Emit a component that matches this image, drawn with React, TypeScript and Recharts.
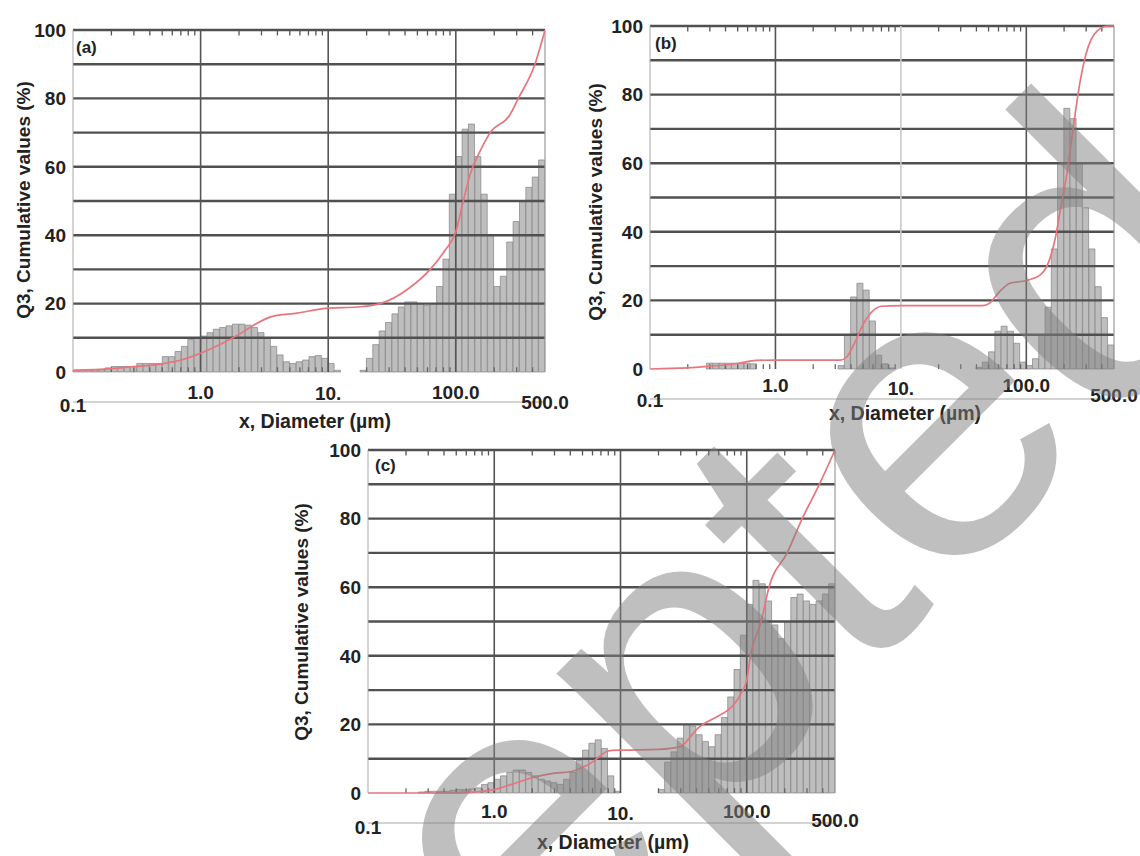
import { ComposedChart, Bar, Line, XAxis, YAxis, ReferenceLine } from 'recharts';

// x axis (log, µm)
const majorTicks = [0.1, 1, 10, 100, 500];
const majorLabels = ['0.1', '1.0', '10.', '100.0', '500.0'];
const minorTicks = [0.2, 0.3, 0.4, 0.5, 0.6, 0.7, 0.8, 0.9, 2, 3, 4, 5, 6, 7, 8, 9, 20, 30, 40, 50, 60, 70, 80, 90, 200, 300, 400];
const yTicks = [0, 20, 40, 60, 80, 100];
const gridY = [10, 20, 30, 40, 50, 60, 70, 80, 90, 100];
const gridX = [1, 10, 100];

// histogram bars, 74 equal log-width bins from 0.1 to 500 µm
const freqA = [
  0.5, 0.5, 0.5, 0.5, 0.6, 1.2, 1.6, 1.6, 1.6, 1.6,
  2.5, 2.5, 2.5, 2.5, 4.5, 4.5, 6, 7.5, 9.5, 10,
  10.5, 11.5, 12.5, 13, 13.5, 14, 14, 13.7, 13, 11.5,
  10, 7.5, 5, 3, 2.5, 3, 3.5, 4.5, 4.8, 4,
  2.5, 0.5, 0, 0, 0, 0.5, 4, 8, 12, 14.5,
  17, 19, 20.5, 20.5, 20, 19.5, 20, 25, 33, 52,
  63, 71, 72.5, 63, 52, 40, 25, 28, 38, 44,
  50, 54, 57, 62,
];
const freqB = [
  0, 0, 0, 0, 0, 0, 0, 0, 0, 1.7,
  1.7, 1.7, 1.7, 1.7, 1.7, 1.7, 1.5, 0, 0, 0,
  0, 0, 0, 0, 0, 0, 0, 0, 0, 0,
  1, 10, 21, 25, 23, 14, 4, 1.5, 0.3, 0,
  0, 0, 0, 0, 0, 0, 0, 0, 0, 0,
  0, 0, 0.5, 2, 5, 11, 12.5, 11, 7.5, 2,
  1, 3, 10, 18, 35, 60, 76, 73, 60, 47,
  35, 24, 15, 7,
];
const freqC = [
  0, 0, 0, 0, 0, 0, 0, 0, 0.3, 0.5,
  0.5, 0.5, 0.5, 0.8, 1, 1, 1.2, 1.5, 2.5, 3,
  4, 5, 6, 6.7, 6.7, 6, 5, 4, 3.5, 3,
  2.5, 4, 6, 9.5, 12.5, 14.5, 15.5, 13, 5, 0.5,
  0, 0, 0, 0, 0, 0, 1, 9, 12, 16,
  20, 19.5, 17, 15, 13.5, 17, 22, 28, 36, 46,
  55, 62, 61, 56, 49, 45, 50, 57, 58, 56,
  55, 56, 58, 61,
];

// cumulative Q3 curves
const cumDA = [0.1, 0.2, 0.3, 0.5, 0.7, 0.85, 1, 1.5, 2, 2.5, 3.6, 5.7, 10, 17, 25.6, 43, 63, 82, 100, 114, 130, 157, 186, 263, 309, 417, 500];
const cumQA = [0.5, 1, 1.6, 2.4, 3.5, 4.5, 5.5, 8.5, 11, 13.3, 16.2, 17.2, 18.7, 19, 20, 24.5, 30, 35.5, 41, 49.7, 58, 65, 70, 75, 80, 90, 100];
const cumDB = [0.1, 0.2, 0.3, 0.5, 0.7, 1, 3.3, 3.7, 4.2, 5, 6, 7, 10, 45, 51, 61, 74, 100, 130, 150, 170, 186, 211, 236, 269, 300, 366, 450, 500];
const cumQB = [0, 0.3, 0.8, 1.6, 2.5, 2.6, 2.6, 3.5, 7, 13, 17, 18.3, 18.5, 18.5, 19.2, 22.5, 25, 25.8, 27.5, 31, 38, 46, 57, 70, 84, 92, 98.5, 100, 100];
const cumDC = [0.1, 0.5, 0.7, 1, 1.5, 2, 3, 4, 5, 6, 7, 8, 10, 20, 30, 35, 40, 50, 60, 80, 90, 100, 107, 130, 150, 209, 275, 376, 500];
const cumQC = [0, 0, 0.3, 1, 3, 4.5, 5.8, 6.2, 7.5, 9, 11, 12.3, 12.5, 12.7, 13.5, 16, 18.5, 21, 22.5, 26, 29, 33, 40, 50, 60, 70, 80, 90, 100];

const FONT = 'Arial, "Liberation Sans", sans-serif';

type PanelProps = {
  left: number;
  top: number;
  plotW: number;
  plotH: number;
  freq: number[];
  cumD: number[];
  cumQ: number[];
  labelDy: number[];
  gridXColors: string[];
};

function Panel({ left, top, plotW, plotH, freq, cumD, cumQ, labelDy, gridXColors }: PanelProps) {
  const bottom = 10 + plotH;
  const bins = freq.map((v, i) => ({ bin: i, freq: v }));
  const cum = cumD.map((d, i) => ({ d, q: cumQ[i] }));

  const xTick = (p: any) => {
    const k = majorTicks.indexOf(p.payload.value);
    if (k < 0) return <g />;
    return (
      <text x={p.x} y={bottom + labelDy[k]} textAnchor="middle" dominantBaseline="central"
        fontSize={19} fontWeight={700} fill="#222" fontFamily={FONT}>
        {majorLabels[k]}
      </text>
    );
  };

  return (
    <div style={{ position: 'absolute', left: left - 70, top: top - 10 }}>
      <ComposedChart width={plotW + 100} height={plotH + 70} data={bins}
        margin={{ top: 10, right: 30, bottom: 20, left: 10 }} barCategoryGap={0} barGap={0}>
        <XAxis xAxisId="bins" dataKey="bin" type="category" hide />
        <XAxis xAxisId="log" dataKey="d" type="number" scale="log" domain={[0.1, 500]} allowDataOverflow
          ticks={majorTicks} interval={0} height={40} tickSize={0} tickLine={false}
          axisLine={{ stroke: '#a8a8a8' }} tick={xTick} />
        <YAxis type="number" domain={[0, 100]} ticks={yTicks} interval={0} width={60}
          tickSize={0} tickMargin={7} axisLine={{ stroke: '#a8a8a8' }} tickLine={false}
          tick={{ fontSize: 19, fontWeight: 700, fill: '#222', fontFamily: FONT }} />
        <Bar xAxisId="bins" dataKey="freq" fill="#bebebe" stroke="#828282" strokeWidth={0.7}
          isAnimationActive={false} />
        {gridY.map((v) => (
          <ReferenceLine key={'h' + v} xAxisId="log" y={v} stroke="#505050" strokeWidth={2.4} />
        ))}
        {gridX.map((v, i) => (
          <ReferenceLine key={'v' + v} xAxisId="log" x={v} stroke={gridXColors[i]} strokeWidth={1.6} />
        ))}
        <ReferenceLine xAxisId="log" x={500} stroke="#9a9a9a" strokeWidth={1.2} />
        {minorTicks.map((v) => (
          <ReferenceLine key={'t' + v} xAxisId="log" segment={[{ x: v, y: 100 }, { x: v, y: 98.4 }]}
            stroke="#555" strokeWidth={1.3} />
        ))}
        {minorTicks.map((v) => (
          <ReferenceLine key={'b' + v} xAxisId="log" segment={[{ x: v, y: 0 }, { x: v, y: 1.4 }]}
            stroke="#666" strokeWidth={1.3} />
        ))}
        <Line xAxisId="log" data={cum} dataKey="q" type="monotone" stroke="#e8747c" strokeWidth={1.7}
          dot={false} isAnimationActive={false} />
      </ComposedChart>
    </div>
  );
}

const yTitle = 'Q3, Cumulative values (%)';
const xTitle = 'x, Diameter (µm)';

export default function App() {
  return (
    <div style={{ position: 'absolute', left: 0, top: 0, width: 1140, height: 856, overflow: 'hidden', background: '#fff' }}>
      <Panel left={73} top={30} plotW={472} plotH={342} freq={freqA} cumD={cumDA} cumQ={cumQA}
        labelDy={[33, 20, 21, 20, 30]} gridXColors={['#555', '#555', '#555']} />
      <Panel left={650} top={26} plotW={464} plotH={343} freq={freqB} cumD={cumDB} cumQ={cumQB}
        labelDy={[31, 16, 19, 16, 26]} gridXColors={['#555', '#c8c8c8', '#555']} />
      <Panel left={368} top={450} plotW={467} plotH={343} freq={freqC} cumD={cumDC} cumQ={cumQC}
        labelDy={[34, 18, 20, 18, 27]} gridXColors={['#555', '#555', '#555']} />

      <svg width={1140} height={856} style={{ position: 'absolute', left: 0, top: 0, pointerEvents: 'none' }}
        fontFamily={FONT} fontWeight={700} fill="#222">
        <text x={23} y={200} fontSize={19} textAnchor="middle" dominantBaseline="central" transform="rotate(-90 23 200)">{yTitle}</text>
        <text x={595} y={202} fontSize={19} textAnchor="middle" dominantBaseline="central" transform="rotate(-90 595 202)">{yTitle}</text>
        <text x={301} y={622} fontSize={19} textAnchor="middle" dominantBaseline="central" transform="rotate(-90 301 622)">{yTitle}</text>
        <text x={315} y={421} fontSize={19.5} textAnchor="middle" dominantBaseline="central">{xTitle}</text>
        <text x={905} y={413} fontSize={19.5} textAnchor="middle" dominantBaseline="central">{xTitle}</text>
        <text x={613} y={842} fontSize={19.5} textAnchor="middle" dominantBaseline="central">{xTitle}</text>
        <text x={76} y={47} fontSize={17} dominantBaseline="central">(a)</text>
        <text x={655} y={43} fontSize={17} dominantBaseline="central">(b)</text>
        <text x={375} y={465} fontSize={17} dominantBaseline="central">(c)</text>
      </svg>

      <svg width={1140} height={856} style={{ position: 'absolute', left: 0, top: 0, pointerEvents: 'none' }}>
        <text x={40} y={1500} textAnchor="start" transform="rotate(-45 40 1500)" fontSize={415}
          fontFamily={FONT} fill="#808080" fillOpacity={0.5}>
          Accepted
        </text>
      </svg>
    </div>
  );
}
